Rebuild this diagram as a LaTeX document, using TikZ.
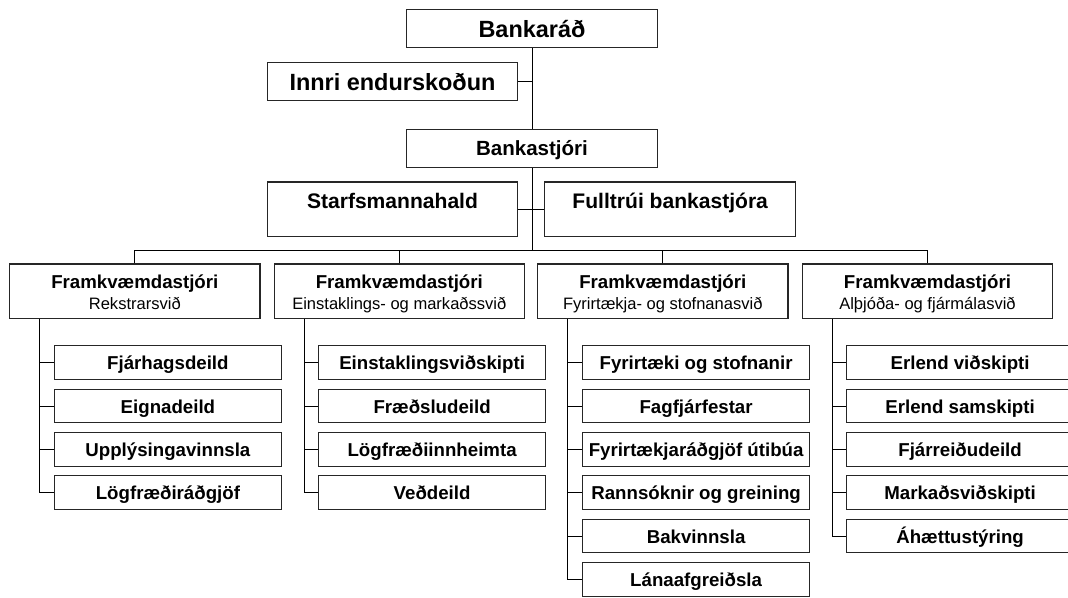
\documentclass[tikz,border=0pt]{standalone}
\usepackage{fontspec}
\setmainfont{Liberation Sans}
\usepackage{tikz}

\newcommand{\subfont}{\fontsize{12.4}{15.6}\selectfont\mdseries}
\newcommand{\titlestrut}{\rule{0pt}{16.2pt}}

\begin{document}
\begin{tikzpicture}[x=0.75pt,y=-0.75pt,
  board/.style={draw=black!85,line width=0.9pt,fill=white,minimum width=187.8pt,minimum height=28.8pt,inner sep=0pt,font=\fontsize{17.6}{20}\selectfont\bfseries},
  chief/.style={board,text height=19.9pt,text depth=8.9pt,font=\fontsize{15.4}{18}\selectfont\bfseries},
  staff/.style={draw=black!85,line width=0.9pt,fill=white,minimum width=188pt,inner sep=0pt,text height=19.9pt,text depth=21.2pt,font=\fontsize{15.8}{18}\selectfont\bfseries},
  division/.style={draw=black!85,line width=0.9pt,fill=white,minimum width=187.8pt,minimum height=40.7pt,inner sep=0pt,align=center,font=\fontsize{14}{15.6}\selectfont\bfseries},
  dept/.style={draw=black!85,line width=0.9pt,fill=white,minimum width=170.6pt,inner sep=0pt,text height=18pt,text depth=7.3pt,font=\fontsize{14}{16}\selectfont\bfseries},
  conn/.style={line width=0.75pt}
]
\clip (0,0) rectangle (1068,597);
% top of the bank
\node[board] (bankarad) at (532,28.5) {Bankaráð};
\node[board] (innri) at (392.5,81.5) {Innri endurskoðun};
\node[chief] (bankastjori) at (532,148.5) {Bankastjóri};
\node[staff] (starfs) at (392.5,209.4) {Starfsmannahald};
\node[staff] (fulltrui) at (670.2,209.4) {Fulltrúi bankastjóra};
\coordinate (bus) at (532,250.7);
% divisions
\node[division] (rekstur) at (134.8,291.2) {\titlestrut Framkvæmdastjóri\\{\subfont Rekstrarsvið\strut}};
\node[division] (einst) at (399.3,291.2) {\titlestrut Framkvæmdastjóri\\{\subfont Einstaklings- og markaðssvið\strut}};
\node[division] (fyrirt) at (662.8,291.2) {\titlestrut Framkvæmdastjóri\\{\subfont Fyrirtækja- og stofnanasvið\strut}};
\node[division] (althjoda) at (927.5,291.2) {\titlestrut Framkvæmdastjóri\\{\subfont Alþjóða- og fjármálasvið\strut}};
% departments
\node[dept] (fjarhag) at (167.9,362.7) {Fjárhagsdeild};
\node[dept] (eignir) at (167.9,406) {Eignadeild};
\node[dept] (upplys) at (167.9,449.3) {Upplýsingavinnsla};
\node[dept] (logradgj) at (167.9,492.7) {Lögfræðiráðgjöf};
\node[dept] (einstv) at (432.1,362.7) {Einstaklingsviðskipti};
\node[dept] (fraedsla) at (432.1,406) {Fræðsludeild};
\node[dept] (loginnh) at (432.1,449.3) {Lögfræðiinnheimta};
\node[dept] (vedd) at (432.1,492.7) {Veðdeild};
\node[dept] (fyrirtst) at (696.1,362.7) {Fyrirtæki og stofnanir};
\node[dept] (fagfj) at (696.1,406) {Fagfjárfestar};
\node[dept] (fyrirtrad) at (696.1,449.3) {Fyrirtækjaráðgjöf útibúa};
\node[dept] (rannsokn) at (696.1,492.7) {Rannsóknir og greining};
\node[dept] (bakv) at (696.1,536) {Bakvinnsla};
\node[dept] (lana) at (696.1,579.3) {Lánaafgreiðsla};
\node[dept] (erlv) at (960.1,362.7) {Erlend viðskipti};
\node[dept] (erls) at (960.1,406) {Erlend samskipti};
\node[dept] (fjarreid) at (960.1,449.3) {Fjárreiðudeild};
\node[dept] (markad) at (960.1,492.7) {Markaðsviðskipti};
\node[dept] (ahaetta) at (960.1,536) {Áhættustýring};
\coordinate (v1) at ([xshift=23pt]rekstur.south west);
\coordinate (v2) at ([xshift=23pt]einst.south west);
\coordinate (v3) at ([xshift=23pt]fyrirt.south west);
\coordinate (v4) at ([xshift=23pt]althjoda.south west);
% connectors
\draw[conn] (bankarad) -- (bankastjori);
\draw[conn] (innri) -- (innri -| bankarad);
\draw[conn] (starfs) -- (fulltrui);
\draw[conn] (bankastjori) -- (bus);
\draw[conn] (rekstur) |- (bus) -| (althjoda);
\draw[conn] (einst) -- (einst |- bus);
\draw[conn] (fyrirt) -- (fyrirt |- bus);
\draw[conn] (v1) |- (logradgj) (fjarhag -| v1) -- (fjarhag) (eignir -| v1) -- (eignir) (upplys -| v1) -- (upplys);
\draw[conn] (v2) |- (vedd) (einstv -| v2) -- (einstv) (fraedsla -| v2) -- (fraedsla) (loginnh -| v2) -- (loginnh);
\draw[conn] (v3) |- (lana) (fyrirtst -| v3) -- (fyrirtst) (fagfj -| v3) -- (fagfj) (fyrirtrad -| v3) -- (fyrirtrad) (rannsokn -| v3) -- (rannsokn) (bakv -| v3) -- (bakv);
\draw[conn] (v4) |- (ahaetta) (erlv -| v4) -- (erlv) (erls -| v4) -- (erls) (fjarreid -| v4) -- (fjarreid) (markad -| v4) -- (markad);
\end{tikzpicture}
\end{document}
